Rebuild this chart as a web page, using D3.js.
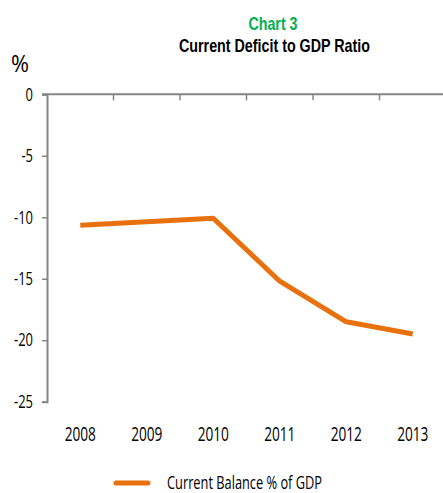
<!DOCTYPE html>
<html>
<head>
<meta charset="utf-8">
<script src="https://cdn.jsdelivr.net/npm/d3@7"></script>
<style>
  html, body { margin: 0; padding: 0; background: #fff; }
  svg { display: block; }
  text { font-family: "Open Sans", "Liberation Sans", sans-serif; }
  text.title { font-family: "Liberation Sans", Arial, sans-serif; }
</style>
</head>
<body>
<svg id="chart" width="443" height="493"></svg>
<script>
// Current account balance as a share of GDP, by year
const years = ["2008", "2009", "2010", "2011", "2012", "2013"];
const balance = [-10.65, -10.37, -10.08, -15.2, -18.5, -19.5];
const yTicks = [0, -5, -10, -15, -20, -25];
const seriesName = "Current Balance % of GDP";

const svg = d3.select("#chart");
const plot = { left: 47, right: 446, top: 94.3, bottom: 401.7 };

const x = d3.scaleBand().domain(years).range([plot.left, plot.right]);
const y = d3.scaleLinear().domain([0, -25]).range([plot.top, plot.bottom]);

const axisColor = "#868686";
const orange = "#E8710E";

// Squeeze text horizontally for a condensed look
function condense(sel, k) {
  sel.each(function () {
    const len = this.getComputedTextLength();
    d3.select(this).attr("textLength", len * k).attr("lengthAdjust", "spacingAndGlyphs");
  });
}
function fitWidth(sel, w) {
  sel.attr("textLength", w).attr("lengthAdjust", "spacingAndGlyphs");
}

// Titles
svg.append("text").attr("class", "title").attr("x", 273).attr("y", 29.5)
  .attr("text-anchor", "middle")
  .attr("font-size", 19).attr("font-weight", "bold").attr("fill", "#00B050")
  .text("Chart 3").call(fitWidth, 49);
svg.append("text").attr("class", "title").attr("x", 274.5).attr("y", 51.5)
  .attr("text-anchor", "middle")
  .attr("font-size", 19).attr("font-weight", "bold").attr("fill", "#000")
  .text("Current Deficit to GDP Ratio").call(fitWidth, 191);
svg.append("text").attr("x", 11).attr("y", 72)
  .attr("font-size", 24).attr("fill", "#000").text("%").call(fitWidth, 18);

// Y axis
const yAxis = d3.axisLeft(y).tickValues(yTicks).tickFormat(d => String(d))
  .tickSize(5).tickPadding(9);
const gy = svg.append("g").attr("transform", `translate(${plot.left},0)`).call(yAxis);
gy.attr("font-family", null);
gy.select(".domain").attr("stroke", axisColor).attr("stroke-width", 2);
gy.selectAll(".tick line").attr("stroke", axisColor).attr("stroke-width", 1.5);
gy.selectAll(".tick text").attr("font-size", 18).attr("fill", "#000").call(condense, 0.72);

// X axis drawn along the zero line, with category boundary ticks
const xAxisLine = svg.append("g");
xAxisLine.append("line").attr("x1", plot.left - 5).attr("x2", plot.right)
  .attr("y1", y(0)).attr("y2", y(0))
  .attr("stroke", axisColor).attr("stroke-width", 2);
xAxisLine.selectAll("line.tk").data(years.slice(1)).join("line").attr("class", "tk")
  .attr("x1", d => x(d)).attr("x2", d => x(d))
  .attr("y1", y(0)).attr("y2", y(0) + 6)
  .attr("stroke", axisColor).attr("stroke-width", 1.5);

// Category labels below the plot
svg.append("g").selectAll("text").data(years).join("text")
  .attr("x", d => x(d) + x.bandwidth() / 2).attr("y", 441)
  .attr("text-anchor", "middle").attr("font-size", 19.5).attr("fill", "#000")
  .text(d => d).call(condense, 0.7);

// Series line
const line = d3.line()
  .x((d, i) => x(years[i]) + x.bandwidth() / 2)
  .y(d => y(d));
svg.append("path").datum(balance).attr("d", line)
  .attr("fill", "none").attr("stroke", orange).attr("stroke-width", 5)
  .attr("stroke-linejoin", "round");

// Legend
svg.append("line").attr("x1", 116).attr("x2", 148).attr("y1", 483).attr("y2", 483)
  .attr("stroke", orange).attr("stroke-width", 5).attr("stroke-linecap", "round");
svg.append("text").attr("x", 167).attr("y", 489).attr("font-size", 18)
  .attr("fill", "#000").text(seriesName).call(fitWidth, 155);
</script>
</body>
</html>
